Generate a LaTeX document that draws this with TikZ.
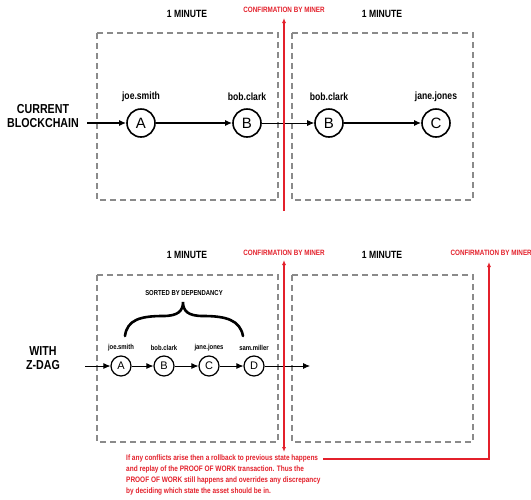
\documentclass[tikz,border=0pt]{standalone}
\usepackage{fontspec}
\setmainfont{Liberation Sans}
\newfontfamily\cn[FakeStretch=0.82]{Liberation Sans}
\usetikzlibrary{arrows.meta}
\definecolor{zred}{HTML}{E3202B}
\definecolor{zgray}{HTML}{8A8A8A}
\tikzset{
  minbox/.style={draw=zgray, line width=1.3pt, dash pattern=on 6pt off 4pt},
  bigcirc/.style={circle, draw, line width=1.6pt, minimum size=28pt, inner sep=0pt, font=\fontsize{15}{15}\selectfont},
  smallcirc/.style={circle, draw, line width=1.2pt, minimum size=20pt, inner sep=0pt, font=\fontsize{11}{11}\selectfont},
  toplbl/.style={font=\cn\bfseries\fontsize{10.5}{10.5}\selectfont},
  botlbl/.style={font=\cn\bfseries\fontsize{7.2}{7.2}\selectfont},
  minlbl/.style={font=\cn\bfseries\fontsize{10.5}{10.5}\selectfont},
  conflbl/.style={text=zred, font=\cn\bfseries\fontsize{7.7}{7.7}\selectfont},
  sidelbl/.style={align=center, font=\cn\bfseries\fontsize{13}{14.5}\selectfont},
  flow/.style={line width=1.4pt, -{Latex[length=7pt,width=6pt]}},
  thinflow/.style={line width=0.8pt, -{Latex[length=7pt,width=6pt]}},
  redline/.style={draw=zred, line width=1.2pt},
  redtip/.style={-{Latex[length=5pt,width=4pt]}},
}
\begin{document}
\begin{tikzpicture}[x=1pt,y=-1pt]
\useasboundingbox (0,0) rectangle (531,499);
% ---------- top ----------
\node[minlbl] (tm1) at (187,14) {1 MINUTE};
\node[minlbl] (tm2) at (382,14) {1 MINUTE};
\node[conflbl] (tc1) at (284,10) {CONFIRMATION BY MINER};
\draw[minbox] (97,33) rectangle (278,200);
\draw[minbox] (292,33) rectangle (473,200);
\node[sidelbl] (cur) at (43,116) {CURRENT\\BLOCKCHAIN};
\node[bigcirc] (A) at (141,123) {A};
\node[bigcirc] (B) at (247,123) {B};
\node[bigcirc] (B2) at (329,123) {B};
\node[bigcirc] (C) at (436,123) {C};
\node[toplbl] at (141,97) {joe.smith};
\node[toplbl] at (247,97) {bob.clark};
\node[toplbl] at (329,97) {bob.clark};
\node[toplbl] at (436,97) {jane.jones};
\coordinate (s1) at (87,123);
\draw[flow] (s1) -- (A);
\draw[flow] (A) -- (B);
\draw[thinflow] (B) -- (B2);
\draw[flow] (B2) -- (C);
\coordinate (r1b) at (284,211);
\coordinate (r1t) at (284,18);
\draw[redline, redtip] (r1b) -- (r1t);
% ---------- bottom ----------
\node[minlbl] (bm1) at (187,255) {1 MINUTE};
\node[minlbl] (bm2) at (382,255) {1 MINUTE};
\node[conflbl] (bc1) at (284,253) {CONFIRMATION BY MINER};
\node[conflbl, anchor=west] (bc2) at (447,253) {CONFIRMATION BY MINER};
\draw[minbox] (97,275) rectangle (278,442);
\draw[minbox] (292,275) rectangle (473,442);
\node[sidelbl] (zdag) at (43,358) {WITH\\Z-DAG};
\node[botlbl] (sorted) at (184,293) {SORTED BY DEPENDANCY};
\draw[line width=2.6pt, line cap=round] (125,336) .. controls (127,320) and (140,316) .. (163,316) .. controls (178,316) and (183,311) .. (183,302) .. controls (183,311) and (188,316) .. (203,316) .. controls (226,316) and (240,320) .. (243,336);
\node[smallcirc] (a) at (121,366) {A};
\node[smallcirc] (b) at (164,366) {B};
\node[smallcirc] (c) at (209,366) {C};
\node[smallcirc] (d) at (254,366) {D};
\node[botlbl] at (121,348) {joe.smith};
\node[botlbl] at (164,348) {bob.clark};
\node[botlbl] at (209,348) {jane.jones};
\node[botlbl] at (254,348) {sam.miller};
\coordinate (s2) at (85,366);
\coordinate (e2) at (310,366);
\draw[thinflow] (s2) -- (a);
\draw[thinflow] (a) -- (b);
\draw[thinflow] (b) -- (c);
\draw[thinflow] (c) -- (d);
\draw[thinflow] (d) -- (e2);
\coordinate (r2t) at (284,260);
\coordinate (r2b) at (284,452);
\draw[redline, {Latex[length=5pt,width=4pt]}-{Latex[length=5pt,width=4pt]}] (r2b) -- (r2t);
\node[conflbl, anchor=north west, align=left, inner sep=0pt, font=\cn\bfseries\fontsize{7.9}{10.8}\selectfont] (note) at (126,455)
 {If any conflicts arise then a rollback to previous state happens\\
  and replay of the PROOF OF WORK transaction. Thus the\\
  PROOF OF WORK still happens and overrides any discrepancy\\
  by deciding which state the asset should be in.};
\coordinate (r3c) at (489,459);
\coordinate (r3t) at (489,262);
\coordinate (r3s) at (323,459);
\draw[redline, redtip] (r3s) -- (r3c) -- (r3t);
\end{tikzpicture}
\end{document}
